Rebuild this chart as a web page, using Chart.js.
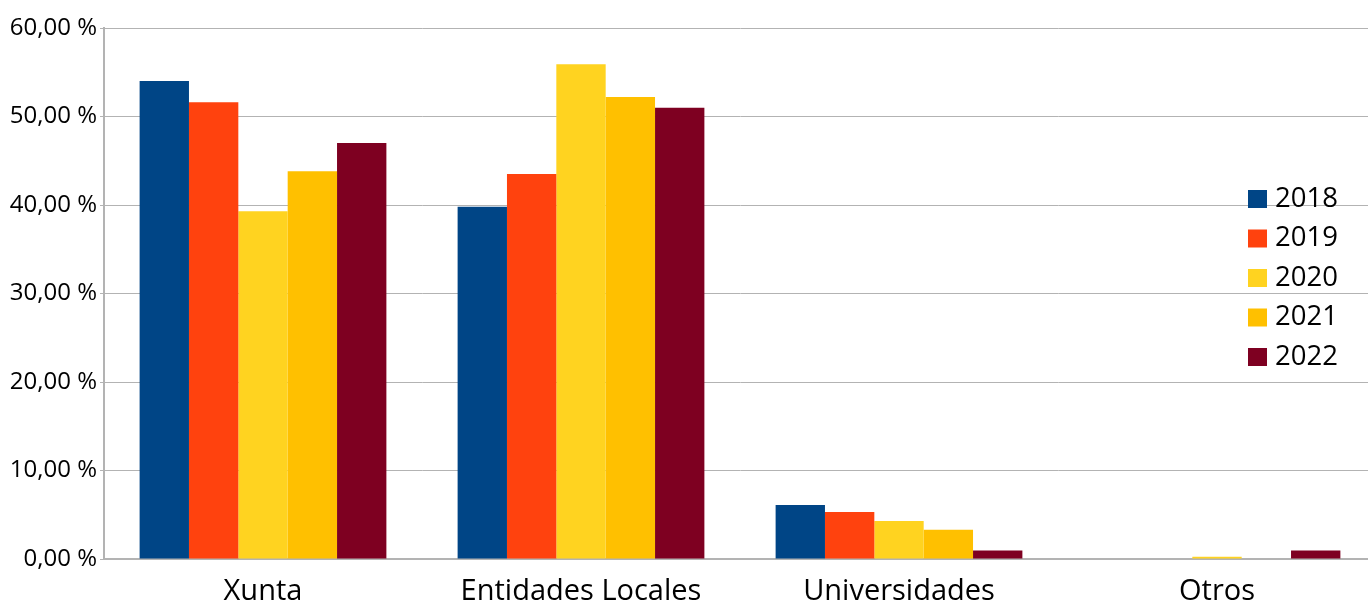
<!DOCTYPE html>
<html>
<head>
<meta charset="utf-8">
<script src="https://cdn.jsdelivr.net/npm/chart.js@4/dist/chart.umd.min.js"></script>
<style>
html, body { margin: 0; padding: 0; background: #fff; overflow: hidden; }
#wrap { width: 1376px; height: 604px; }
</style>
</head>
<body>
<div id="wrap"><canvas id="c" width="1376" height="604"></canvas></div>
<script>
const categories = ["Xunta", "Entidades Locales", "Universidades", "Otros"];
const years = ["2018", "2019", "2020", "2021", "2022"];
const s2018 = [54.0, 39.8, 6.1, 0];
const s2019 = [51.6, 43.5, 5.3, 0];
const s2020 = [39.3, 55.9, 4.3, 0.25];
const s2021 = [43.8, 52.2, 3.3, 0];
const s2022 = [47.0, 51.0, 0.95, 0.95];
const colors = ["#004586", "#ff420e", "#ffd320", "#ffc000", "#7e0021"];
const series = [s2018, s2019, s2020, s2021, s2022];

const legendPlugin = {
  id: 'insideLegend',
  afterDraw(chart) {
    const ctx = chart.ctx;
    ctx.save();
    ctx.font = '27.5px "Open Sans"';
    ctx.textBaseline = 'middle';
    ctx.textAlign = 'left';
    chart.data.datasets.forEach((ds, i) => {
      const y = 190 + i * 39.5;
      ctx.fillStyle = ds.backgroundColor;
      ctx.fillRect(1248, y, 19, 18);
      ctx.fillStyle = '#000';
      ctx.fillText(ds.label, 1275, y + 9);
    });
    ctx.restore();
  }
};

new Chart(document.getElementById('c'), {
  type: 'bar',
  data: {
    labels: categories,
    datasets: years.map((y, i) => ({
      label: y,
      data: series[i],
      backgroundColor: colors[i],
      borderWidth: 0,
      barPercentage: 1,
      categoryPercentage: 0.776
    }))
  },
  options: {
    responsive: false,
    devicePixelRatio: 1,
    animation: false,
    layout: { padding: { top: 28, right: 0, left: 0, bottom: 0 } },
    plugins: { legend: { display: false }, tooltip: { enabled: false } },
    scales: {
      x: {
        grid: { display: false, drawTicks: false },
        border: { display: true, color: '#b3b3b3', width: 2 },
        ticks: { color: '#000', font: { family: 'Open Sans', size: 29 }, padding: 15, maxRotation: 0 },
        afterFit(scale) { scale.height = 45; }
      },
      y: {
        min: 0, max: 60,
        ticks: {
          stepSize: 10, color: '#000', padding: 3,
          font: { family: 'Open Sans', size: 24 },
          callback: v => v.toFixed(2).replace('.', ',') + ' %'
        },
        grid: { color: '#b3b3b3', lineWidth: 1, tickLength: 4 },
        border: { display: true, color: '#b3b3b3', width: 2 },
        afterFit(scale) { scale.width = 104; }
      }
    }
  },
  plugins: [legendPlugin]
});
</script>
</body>
</html>
